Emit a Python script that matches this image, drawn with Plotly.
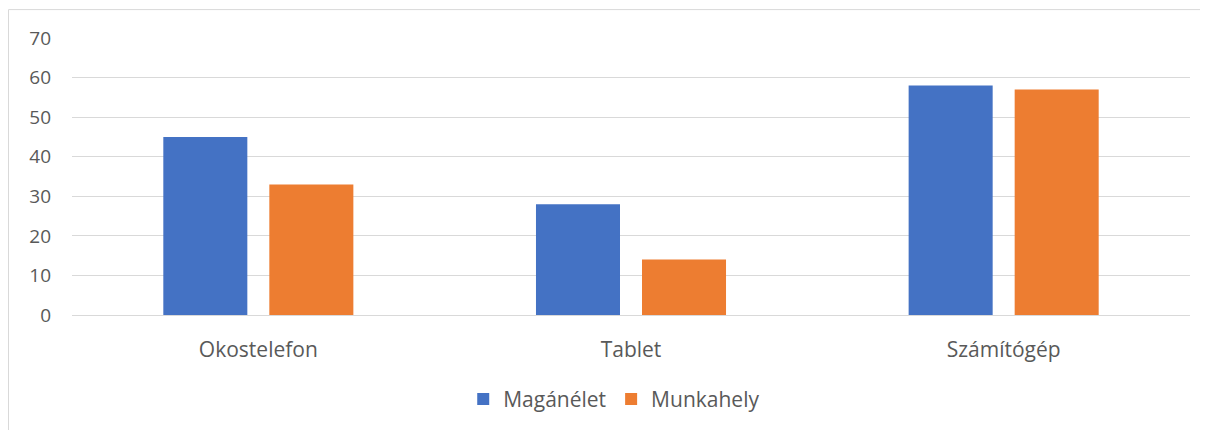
import plotly.graph_objects as go

categories = ["Okostelefon", "Tablet", "Számítógép"]
maganelet = [45, 28, 58]
munkahely = [33, 14, 57]
y_ticks = [0, 10, 20, 30, 40, 50, 60, 70]

FONT = "Open Sans, Lato, sans-serif"
GREY = "#595959"
GRID = "#d9d9d9"

W, H = 1200, 422
L, R, T, B = 64, 18, 30, 114
PW, PH = W - L - R, H - T - B

fig = go.Figure()
fig.add_trace(go.Bar(x=categories, y=maganelet, name="Magánélet", marker=dict(color="#4472C4", line=dict(width=0))))
fig.add_trace(go.Bar(x=categories, y=munkahely, name="Munkahely", marker=dict(color="#ED7D31", line=dict(width=0))))

fig.update_layout(
    width=W, height=H,
    margin=dict(l=L, r=R, t=T, b=B),
    paper_bgcolor="white", plot_bgcolor="white",
    barmode="group", bargap=0.431, bargroupgap=0.2075,
    font=dict(family=FONT, color=GREY, size=20),
    showlegend=True,
    legend=dict(orientation="h", x=0.485, xanchor="center", y=-0.30, yanchor="middle",
                font=dict(size=21, color=GREY), itemwidth=30, traceorder="normal"),
    xaxis=dict(showgrid=False, showline=False, ticks="", tickfont=dict(size=21, color=GREY),
               ticklabelstandoff=20),
    yaxis=dict(range=[0, 70], tickvals=y_ticks, showgrid=True, gridcolor=GRID, gridwidth=1,
               zeroline=True, zerolinecolor=GRID, zerolinewidth=1, showline=False,
               tickfont=dict(size=19, color=GREY), ticklabelstandoff=20),
)
fig.add_shape(type="rect", xref="paper", yref="paper",
              x0=(0.5 - L) / PW, x1=(W + 10 - L) / PW,
              y0=(T + PH - (H + 20)) / PH, y1=(T + PH - 1.5) / PH,
              line=dict(color=GRID, width=1), fillcolor="rgba(0,0,0,0)", layer="below")
fig.write_html("out.html")
